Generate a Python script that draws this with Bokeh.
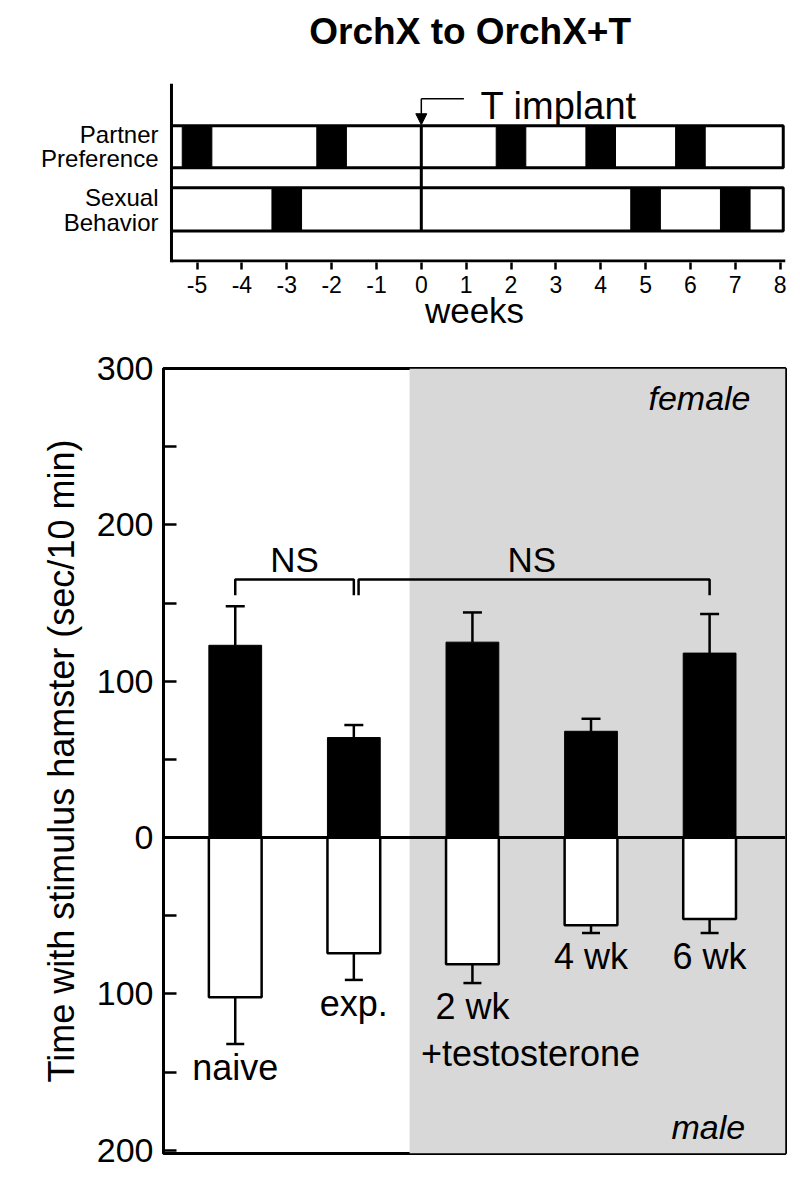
import numpy as np
from bokeh.plotting import figure
from bokeh.models import (Range1d, FixedTicker, Label, Arrow, NormalHead, BoxAnnotation,
                          Span, Whisker, TeeHead, ColumnDataSource)
from bokeh.layouts import column
from bokeh.embed import file_html
from bokeh.resources import INLINE

FONT = "Liberation Sans"

# ---------------- data: test schedule ----------------
title_text = "OrchX to OrchX+T"
week_ticks = [-5, -4, -3, -2, -1, 0, 1, 2, 3, 4, 5, 6, 7, 8]
partner_pref_weeks = [-5, -2, 2, 4, 6]
sexual_beh_weeks = [-3, 5, 7]
implant_week = 0
implant_text = "T implant"
row_names = ["Partner", "Preference", "Sexual", "Behavior"]
x_axis_title = "weeks"

# ---------------- data: bar chart ----------------
groups = ["naive", "exp.", "2 wk", "4 wk", "6 wk"]
group_sub = ["", "", "+testosterone", "", ""]
female_mean = [123, 64, 125, 68, 118]
female_sem = [25, 8, 19, 8, 25]
male_mean = [102, 74, 81, 56, 52]
male_sem = [30, 17, 12, 5, 9]
y_ticks = [-200, -100, 0, 100, 200, 300]
y_tick_labels = ["200", "100", "0", "100", "200", "300"]
y_minor_ticks = [-150, -50, 50, 150, 250]
ns_pairs = [(0, 1), (1, 4)]
ns_label = "NS"
y_axis_title = "Time with stimulus hamster (sec/10 min)"
female_text = "female"
male_text = "male"

# ================= top: schedule =================
AX0 = -5.57              # where the drawn left axis line sits
AXTOP = 177              # top of the drawn left axis line
XL, XR = -5.748, 8.12
p1 = figure(width=792, height=343, x_range=Range1d(XL, XR), y_range=Range1d(-1.5, 260),
            output_backend="svg", toolbar_location=None,
            min_border_left=163, min_border_right=7, min_border_top=0, min_border_bottom=81)
p1.grid.visible = False
p1.outline_line_color = None

xa = p1.xaxis[0]
xa.ticker = FixedTicker(ticks=week_ticks)
xa.major_label_overrides = {t: str(t) for t in week_ticks}
xa.major_tick_in = 0
xa.major_tick_out = 7
xa.minor_tick_line_color = None
xa.axis_line_color = None
xa.major_tick_line_width = 2.5
xa.major_label_text_font = FONT
xa.major_label_text_font_size = "23px"
xa.major_label_text_color = "black"
xa.major_label_standoff = 6
xa.axis_label = x_axis_title
xa.axis_label_text_font = FONT
xa.axis_label_text_font_size = "35px"
xa.axis_label_text_font_style = "normal"
xa.axis_label_text_color = "black"
xa.axis_label_standoff = -5

row_bottom = [93, 30]
row_top = [135, 73]
row_label_pos = [126, 102, 63, 38]

ya = p1.yaxis[0]
ya.ticker = FixedTicker(ticks=row_label_pos)
ya.major_label_overrides = dict(zip(row_label_pos, row_names))
ya.axis_line_color = None
ya.major_label_text_font = FONT
ya.major_label_text_font_size = "24px"
ya.major_label_text_color = "black"
ya.major_label_standoff = -1
ya.major_tick_line_color = None
ya.minor_tick_line_color = None

# axis lines of the schedule panel
p1.segment(x0=[AX0, AX0], y0=[0, -1.5], x1=[XR, AX0], y1=[0, AXTOP], line_width=3, color="black")

p1.quad(left=AX0, right=8.07, bottom=row_bottom, top=row_top,
        fill_color="white", line_color="black", line_width=3)
half = 0.33
for weeks, b, t in zip([partner_pref_weeks, sexual_beh_weeks], row_bottom, row_top):
    w = np.array(weeks, dtype=float)
    p1.quad(left=w - half, right=w + half, bottom=b, top=t,
            fill_color="black", line_color="black", line_width=1)
p1.segment(x0=[implant_week], y0=[row_bottom[1]], x1=[implant_week], y1=[row_top[0]],
           line_width=3, color="black")
lead_y = 162
p1.segment(x0=[implant_week], y0=[lead_y], x1=[implant_week + 0.95], y1=[lead_y],
           line_width=1.5, color="black")
p1.add_layout(Arrow(end=NormalHead(size=11, fill_color="black", line_color="black"),
                    x_start=implant_week, y_start=lead_y, x_end=implant_week, y_end=row_top[0] + 1,
                    line_width=1.5, line_color="black"))
p1.add_layout(Label(x=1.32, y=155, text=implant_text, text_font=FONT, text_font_size="38px",
                    text_color="black", text_align="left", text_baseline="middle"))
p1.add_layout(Label(x=1.09, y=229, text=title_text, text_font=FONT, text_font_size="37px",
                    text_font_style="bold", text_color="black",
                    text_align="center", text_baseline="middle"))

# ================= bottom: bars =================
p2 = figure(width=792, height=827, x_range=Range1d(-0.605, 4.64), y_range=Range1d(-202, 300),
            output_backend="svg", toolbar_location=None,
            min_border_left=163, min_border_right=7, min_border_top=25, min_border_bottom=17)
p2.grid.visible = False
p2.xaxis.visible = False
p2.outline_line_color = "black"
p2.outline_line_width = 3
p2.outline_line_alpha = 1

ay = p2.yaxis[0]
ay.ticker = FixedTicker(ticks=y_ticks, minor_ticks=y_minor_ticks)
ay.major_label_overrides = dict(zip(y_ticks, y_tick_labels))
ay.major_tick_in = 13
ay.major_tick_out = 0
ay.minor_tick_in = 13
ay.minor_tick_out = 0
ay.axis_line_width = 3
ay.major_tick_line_width = 2.5
ay.minor_tick_line_width = 2.5
ay.major_label_text_font = FONT
ay.major_label_text_font_size = "34px"
ay.major_label_text_color = "black"
ay.major_label_standoff = 10
ay.axis_label = y_axis_title
ay.axis_label_text_font = FONT
ay.axis_label_text_font_size = "36px"
ay.axis_label_text_font_style = "normal"
ay.axis_label_text_color = "black"
ay.axis_label_standoff = 12

p2.add_layout(BoxAnnotation(left=1.47, fill_color="#d8d8d8", fill_alpha=1, line_color=None,
                            level="underlay"))

xi = np.arange(len(groups), dtype=float)
fm = np.array(female_mean, dtype=float)
fs = np.array(female_sem, dtype=float)
mm = np.array(male_mean, dtype=float)
ms = np.array(male_sem, dtype=float)
BW = 0.445

p2.vbar(x=xi, top=fm, bottom=0, width=BW, fill_color="black", line_color="black", line_width=1)
p2.vbar(x=xi, top=0, bottom=-mm, width=BW, fill_color="white", line_color="black", line_width=2.5)

fsrc = ColumnDataSource(dict(x=xi, lo=fm, up=fm + fs))
p2.add_layout(Whisker(source=fsrc, base="x", lower="lo", upper="up", dimension="height",
                      upper_head=TeeHead(size=19, line_width=2.5, line_color="black"),
                      lower_head=None, line_width=2.5, line_color="black", level="overlay"))
msrc = ColumnDataSource(dict(x=xi, lo=-(mm + ms), up=-mm))
p2.add_layout(Whisker(source=msrc, base="x", lower="lo", upper="up", dimension="height",
                      lower_head=TeeHead(size=18, line_width=2.5, line_color="black"),
                      upper_head=None, line_width=2.5, line_color="black", level="overlay"))

p2.add_layout(Span(location=0, dimension="width", line_color="black", line_width=3))

# NS brackets
br_y, br_tick = 165, 10
for i, (a, b) in enumerate(ns_pairs):
    x0 = a + (0.04 if i > 0 else 0.0)
    x1 = b
    p2.line(x=[x0, x0, x1, x1], y=[br_y - br_tick, br_y, br_y, br_y - br_tick],
            line_color="black", line_width=2.5)
    p2.add_layout(Label(x=(a + b) / 2, y=br_y + 13, text=ns_label, text_font=FONT,
                        text_font_size="35px", text_color="black",
                        text_align="center", text_baseline="alphabetic"))

# group labels under male bars
for i, (g, sub) in enumerate(zip(groups, group_sub)):
    yb = -(mm[i] + ms[i]) - 15
    p2.add_layout(Label(x=xi[i], y=yb, text=g, text_font=FONT, text_font_size="36px",
                        text_color="black", text_align="center", text_baseline="alphabetic"))
    if sub:
        p2.add_layout(Label(x=xi[i] + 0.49, y=yb - 30, text=sub, text_font=FONT,
                            text_font_size="36px", text_color="black",
                            text_align="center", text_baseline="alphabetic"))

p2.add_layout(Label(x=4.345, y=281, text=female_text, text_font=FONT, text_font_size="34px",
                    text_color="black", text_font_style="italic",
                    text_align="right", text_baseline="alphabetic"))
p2.add_layout(Label(x=4.30, y=-185, text=male_text, text_font=FONT, text_font_size="34px",
                    text_color="black", text_font_style="italic",
                    text_align="right", text_baseline="alphabetic"))

layout = column(p1, p2)
open("out.html", "w").write(file_html(layout, INLINE))
